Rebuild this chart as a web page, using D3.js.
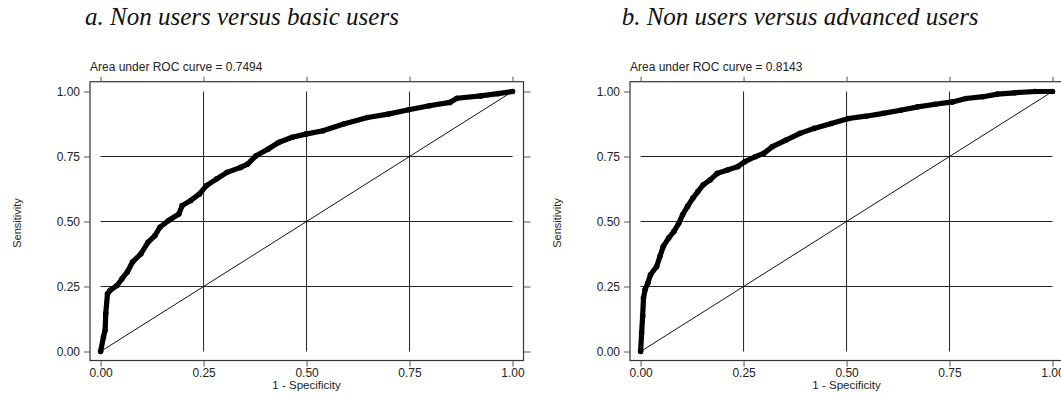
<!DOCTYPE html>
<html>
<head>
<meta charset="utf-8">
<script src="https://cdn.jsdelivr.net/npm/d3@7"></script>
<style>
  html, body { margin: 0; padding: 0; background: #fff; }
  svg { display: block; }
</style>
</head>
<body>
<script>
// ---- Data ----
const panelTitles = ["a. Non users versus basic users", "b. Non users versus advanced users"];
const aucLabels = ["Area under ROC curve = 0.7494", "Area under ROC curve = 0.8143"];
const tickValues = [0, 0.25, 0.5, 0.75, 1];
const tickLabels = ["0.00", "0.25", "0.50", "0.75", "1.00"];
const xAxisTitle = "1 - Specificity";
const yAxisTitle = "Sensitivity";

// Panel a: 1 - specificity / sensitivity
const fprA = [0, 0.007, 0.011, 0.0125, 0.0167, 0.023, 0.04, 0.052, 0.065, 0.0775, 0.098, 0.115, 0.132, 0.144, 0.165, 0.19, 0.198, 0.219, 0.24, 0.257, 0.282, 0.307, 0.34, 0.357, 0.3775, 0.407, 0.432, 0.465, 0.498, 0.54, 0.59, 0.648, 0.698, 0.748, 0.798, 0.848, 0.865, 0.923, 0.965, 1];
const tprA = [0, 0.056, 0.082, 0.146, 0.222, 0.235, 0.254, 0.28, 0.306, 0.344, 0.376, 0.42, 0.446, 0.478, 0.504, 0.529, 0.561, 0.581, 0.606, 0.638, 0.664, 0.689, 0.708, 0.721, 0.753, 0.779, 0.804, 0.824, 0.836, 0.849, 0.875, 0.9, 0.913, 0.93, 0.945, 0.958, 0.974, 0.983, 0.992, 1];

// Panel b
const fprB = [0, 0.0025, 0.005, 0.007, 0.011, 0.0176, 0.024, 0.039, 0.047, 0.055, 0.068, 0.081, 0.093, 0.102, 0.114, 0.127, 0.139, 0.152, 0.169, 0.186, 0.211, 0.236, 0.253, 0.278, 0.299, 0.32, 0.353, 0.387, 0.421, 0.463, 0.505, 0.547, 0.589, 0.631, 0.673, 0.715, 0.757, 0.79, 0.832, 0.866, 0.908, 0.958, 1];
const tprB = [0, 0.072, 0.136, 0.206, 0.238, 0.263, 0.295, 0.327, 0.366, 0.404, 0.436, 0.462, 0.494, 0.526, 0.558, 0.59, 0.615, 0.641, 0.66, 0.685, 0.698, 0.711, 0.73, 0.749, 0.762, 0.788, 0.813, 0.839, 0.858, 0.877, 0.896, 0.905, 0.916, 0.928, 0.941, 0.951, 0.96, 0.973, 0.98, 0.99, 0.995, 1, 1];

const curves = [
  fprA.map((f, i) => [f, tprA[i]]),
  fprB.map((f, i) => [f, tprB[i]])
];

// ---- Layout ----
const W = 1061, H = 394;
const boxLefts = [90, 630];
const boxTop = 81.7, boxBottom = 360.5, boxW = 433.5;
const titleX = [85, 621.7];

const svg = d3.select("body").append("svg").attr("width", W).attr("height", H);
const sans = "'Liberation Sans', Arial, sans-serif";
const serif = "'Liberation Serif', 'Times New Roman', serif";

curves.forEach((pts, p) => {
  const bl = boxLefts[p];
  const x = d3.scaleLinear().domain([0, 1]).range([bl + 10.6, bl + 422.5]);
  const y = d3.scaleLinear().domain([0, 1]).range([351.5, 91.5]);
  const g = svg.append("g");

  // title
  g.append("text").attr("x", titleX[p]).attr("y", 25)
    .attr("font-family", serif).attr("font-style", "italic").attr("font-size", 25)
    .attr("fill", "#111").text(panelTitles[p]);

  // AUC label
  g.append("text").attr("x", bl).attr("y", 71)
    .attr("font-family", sans).attr("font-size", 12).attr("fill", "#222").text(aucLabels[p]);

  // gridlines
  const inner = tickValues.filter(v => v > 0 && v < 1);
  g.selectAll(".vg").data(inner).enter().append("line")
    .attr("x1", d => x(d)).attr("x2", d => x(d)).attr("y1", y(0)).attr("y2", y(1))
    .attr("stroke", "#222").attr("stroke-width", 1);
  g.selectAll(".hg").data(inner).enter().append("line")
    .attr("x1", x(0)).attr("x2", x(1)).attr("y1", d => y(d)).attr("y2", d => y(d))
    .attr("stroke", "#222").attr("stroke-width", 1);

  // box
  g.append("rect").attr("x", bl).attr("y", boxTop).attr("width", boxW).attr("height", boxBottom - boxTop)
    .attr("fill", "none").attr("stroke", "#333").attr("stroke-width", 1.2);

  // axes
  const fmt = (d) => tickLabels[tickValues.indexOf(d)];
  const left = d3.axisLeft(y).tickValues(tickValues).tickFormat(fmt).tickSize(6).tickPadding(4);
  const right = d3.axisRight(y).tickValues(tickValues).tickFormat("").tickSize(7);
  const bottom = d3.axisBottom(x).tickValues(tickValues).tickFormat(fmt).tickSize(6).tickPadding(2);
  const top = d3.axisTop(x).tickValues(tickValues).tickFormat("").tickSize(5);

  const styleAxis = (sel) => {
    sel.select(".domain").remove();
    sel.selectAll(".tick line").attr("stroke", "#555");
    sel.selectAll(".tick text").attr("font-family", sans).attr("font-size", 12).attr("fill", "#222");
  };
  g.append("g").attr("transform", `translate(${bl},0)`).call(left).call(styleAxis);
  g.append("g").attr("transform", `translate(${bl + boxW},0)`).call(right).call(styleAxis);
  g.append("g").attr("transform", `translate(0,${boxBottom})`).call(bottom).call(styleAxis);
  g.append("g").attr("transform", `translate(0,${boxTop})`).call(top).call(styleAxis);

  // axis titles
  g.append("text").attr("x", (x(0) + x(1)) / 2).attr("y", 389).attr("text-anchor", "middle")
    .attr("font-family", sans).attr("font-size", 11.5).attr("fill", "#222").text(xAxisTitle);
  g.append("text").attr("transform", `translate(${bl - 69},223) rotate(-90)`).attr("text-anchor", "middle")
    .attr("font-family", sans).attr("font-size", 11).attr("fill", "#222").text(yAxisTitle);

  // reference diagonal
  g.append("line").attr("x1", x(0)).attr("y1", y(0)).attr("x2", x(1)).attr("y2", y(1))
    .attr("stroke", "#111").attr("stroke-width", 1);

  // ROC curve
  const line = d3.line().x(d => x(d[0])).y(d => y(d[1]));
  g.append("path").datum(pts).attr("d", line)
    .attr("fill", "none").attr("stroke", "#000").attr("stroke-width", 5.2)
    .attr("stroke-linejoin", "round").attr("stroke-linecap", "round");
  g.selectAll(".pt").data(pts).enter().append("circle")
    .attr("cx", d => x(d[0])).attr("cy", d => y(d[1])).attr("r", 2.8).attr("fill", "#000");
});
</script>
</body>
</html>
